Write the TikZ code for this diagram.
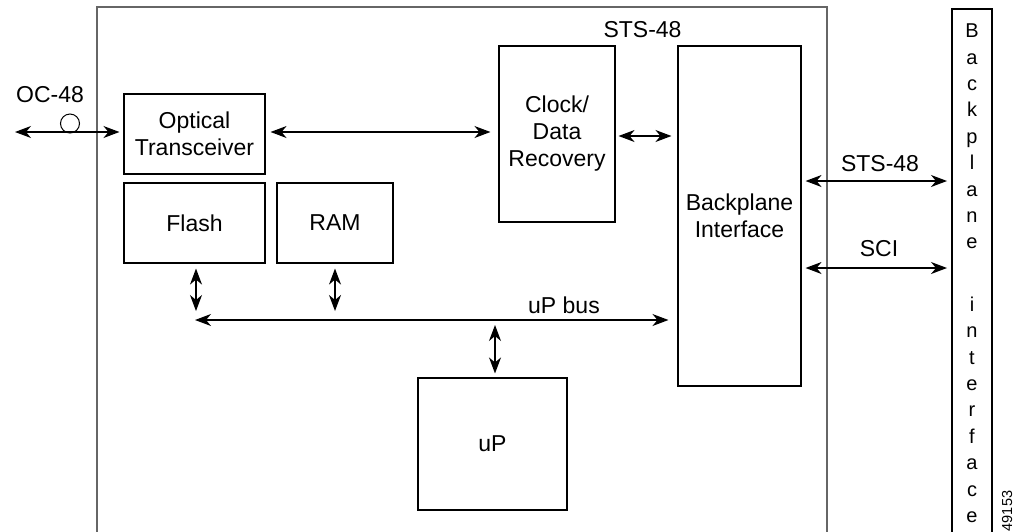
\documentclass[tikz,border=0pt]{standalone}
\usepackage{fontspec}
\setmainfont{Liberation Sans}
\usetikzlibrary{arrows.meta}
\begin{document}
\begin{tikzpicture}[x=1pt,y=-1pt,
  box/.style={draw=black,line width=1.1pt,rectangle,inner sep=0pt,align=center,font=\fontsize{23}{27}\selectfont},
  lbl/.style={inner sep=0pt,font=\fontsize{23}{27}\selectfont},
  biarrow/.style={line width=1.2pt,{Stealth[length=16pt,width=12pt,inset=5pt]}-{Stealth[length=16pt,width=12pt,inset=5pt]}},
  frameline/.style={draw=black!60,line width=2pt},
  stripline/.style={draw=black,line width=1.1pt}]
\useasboundingbox (0,0) rectangle (1016,531);
% outer card frame (open at the bottom)
\draw[frameline] (97,540) -- (97,7) -- (827,7) -- (827,540);
% backplane strip
\draw[stripline] (952,540) -- (952,9) -- (992,9) -- (992,540);
\coordinate (stripL) at (952,9);
\node[anchor=north,inner sep=0pt,align=center,font=\fontsize{20}{26.4}\selectfont] (bptext) at (972,23.7)
  {B\\a\\c\\k\\p\\l\\a\\n\\e\\[36pt]i\\n\\t\\e\\r\\f\\a\\c\\e};
% blocks
\node[box,minimum width=141pt,minimum height=80pt] (ot) at (194.5,134) {Optical\\Transceiver};
\node[box,minimum width=141pt,minimum height=80pt] (flash) at (194.5,223) {Flash};
\node[box,minimum width=116pt,minimum height=80pt] (ram) at (335,223) {RAM};
\node[box,minimum width=116pt,minimum height=176pt] (cdr) at (557,134) {Clock/\\Data\\Recovery};
\node[box,minimum width=123pt,minimum height=340pt] (bif) at (739.5,216) {Backplane\\Interface};
\node[box,minimum width=149pt,minimum height=132pt] (up) at (492.5,444) {uP};
% labels
\node[lbl] (oclbl) at (50,94.5) {OC-48};
\node[lbl] (ststop) at (642.5,30) {STS-48};
\node[lbl] (stsright) at (880,163.5) {STS-48};
\node[lbl] (scilbl) at (879,249) {SCI};
\node[lbl] (buslbl) at (564,305) {uP bus};
\node[rotate=90,inner sep=0pt,font=\fontsize{14.5}{15}\selectfont] (fignum) at (1007,511) {49153};
% OC-48 line
\coordinate (ocL) at (15,132);
\draw[biarrow,shorten >=4pt] (ocL) -- (ocL -| ot.west);
\node[circle,draw,line width=1pt,minimum size=19pt,inner sep=0pt] (lens) at (70,123.5) {};
% optical <-> CDR
\coordinate (o1) at ([yshift=2pt]ot.east);
\draw[biarrow,shorten <=5pt,shorten >=8pt] (o1) -- (o1 -| cdr.west);
% CDR <-> backplane interface
\coordinate (c1) at ([yshift=-2pt]cdr.east);
\draw[biarrow,shorten <=3pt,shorten >=6pt] (c1) -- (c1 -| bif.west);
% to backplane
\path (bif.east) ++(0,-35) coordinate (r1);
\draw[biarrow,shorten <=4pt,shorten >=5pt] (r1) -- (r1 -| stripL);
\path (bif.east) ++(0,52) coordinate (r2);
\draw[biarrow,shorten <=4pt,shorten >=5pt] (r2) -- (r2 -| stripL);
% uP bus
\coordinate (busL) at (195,320);
\draw[biarrow,shorten >=9pt] (busL) -- (busL -| bif.west);
\coordinate (f1) at ([xshift=1.5pt]flash.south);
\draw[biarrow,shorten <=5pt,shorten >=9pt] (f1) -- (f1 |- busL);
\draw[biarrow,shorten <=5pt,shorten >=9pt] (ram.south) -- (ram.south |- busL);
\coordinate (u1) at ([xshift=2.5pt]up.north);
\draw[biarrow,shorten <=4pt,shorten >=5pt] (u1) -- (u1 |- busL);
\end{tikzpicture}
\end{document}
